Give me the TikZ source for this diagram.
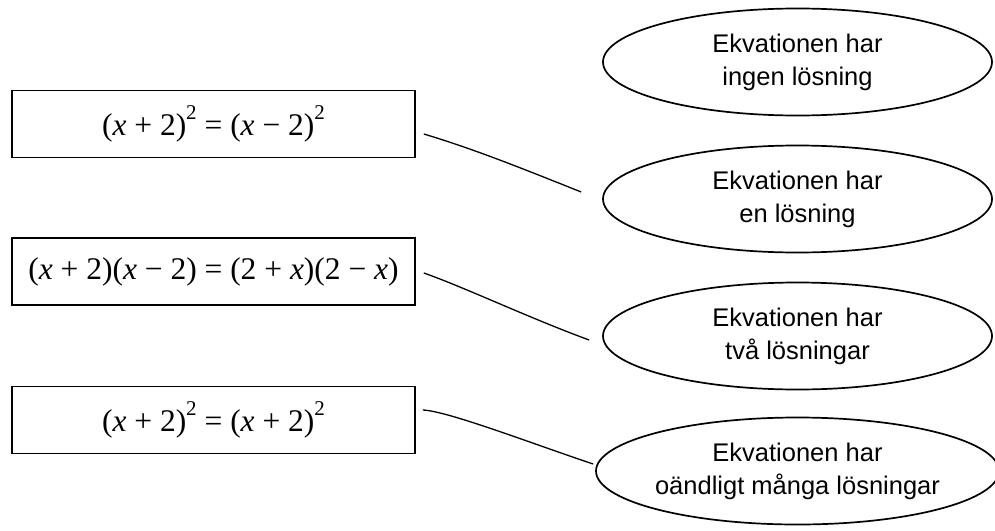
\documentclass[tikz,border=0pt]{standalone}
\usepackage{fontspec}
\newfontfamily\sansf{Liberation Sans}
\newfontfamily\serf{Liberation Serif}
\newcommand{\vx}{\textit{x}}
\newcommand{\sq}{\raisebox{0.5em}{\fontsize{21}{21}\selectfont 2}}
\usetikzlibrary{shapes.geometric,calc}
\begin{document}
\begin{tikzpicture}[x=1pt,y=-1pt,
 eqbox/.style={draw, line width=1.6pt, minimum width=403pt, minimum height=67pt, inner sep=0pt, font=\serf\fontsize{31.5}{36}\selectfont},
 answer/.style={draw, ellipse, line width=1.7pt, minimum width=389pt, minimum height=107pt, inner sep=0pt, align=center, font=\sansf\fontsize{25.5}{33}\selectfont},
 link/.style={line width=1.3pt}]
\useasboundingbox[fill=white] (0,0) rectangle (995,530);

\node[eqbox] (b1) at (213.5,124) {(\vx{} + 2)\sq{} = (\vx{} − 2)\sq};
\node[eqbox] (b2) at (213.5,271.5) {(\vx{} + 2)(\vx{} − 2) = (2 + \vx)(2 − \vx)};
\node[eqbox] (b3) at (213.5,420) {(\vx{} + 2)\sq{} = (\vx{} + 2)\sq};

\node[answer] (e1) at (797.5,62) {Ekvationen har\\ingen lösning};
\node[answer] (e2) at (797.5,199) {Ekvationen har\\en lösning};
\node[answer] (e3) at (797.5,336) {Ekvationen har\\två lösningar};
\node[answer] (e4) at (797.5,471) {Ekvationen har\\oändligt många lösningar};

\coordinate (s1) at ($(b1.east)+(8,10)$);
\coordinate (t1) at ($(e2.west)+(-21,-7)$);
\coordinate (s2) at ($(b2.east)+(8,1.5)$);
\coordinate (t2) at ($(e3.west)+(-13,4)$);
\coordinate (s3) at ($(b3.east)+(7,-10)$);
\coordinate (t3) at ($(e4.west)+(-2,-7)$);

\draw[link] (s1) .. controls ($(s1)+(50,15)$) and ($(t1)+(-60,-24)$) .. (t1);
\draw[link] (s2) .. controls ($(s2)+(40,14)$) and ($(t2)+(-60,-22)$) .. (t2);
\draw[link] (s3) .. controls ($(s3)+(25,1)$) and ($(t3)+(-60,-20)$) .. (t3);
\end{tikzpicture}
\end{document}
